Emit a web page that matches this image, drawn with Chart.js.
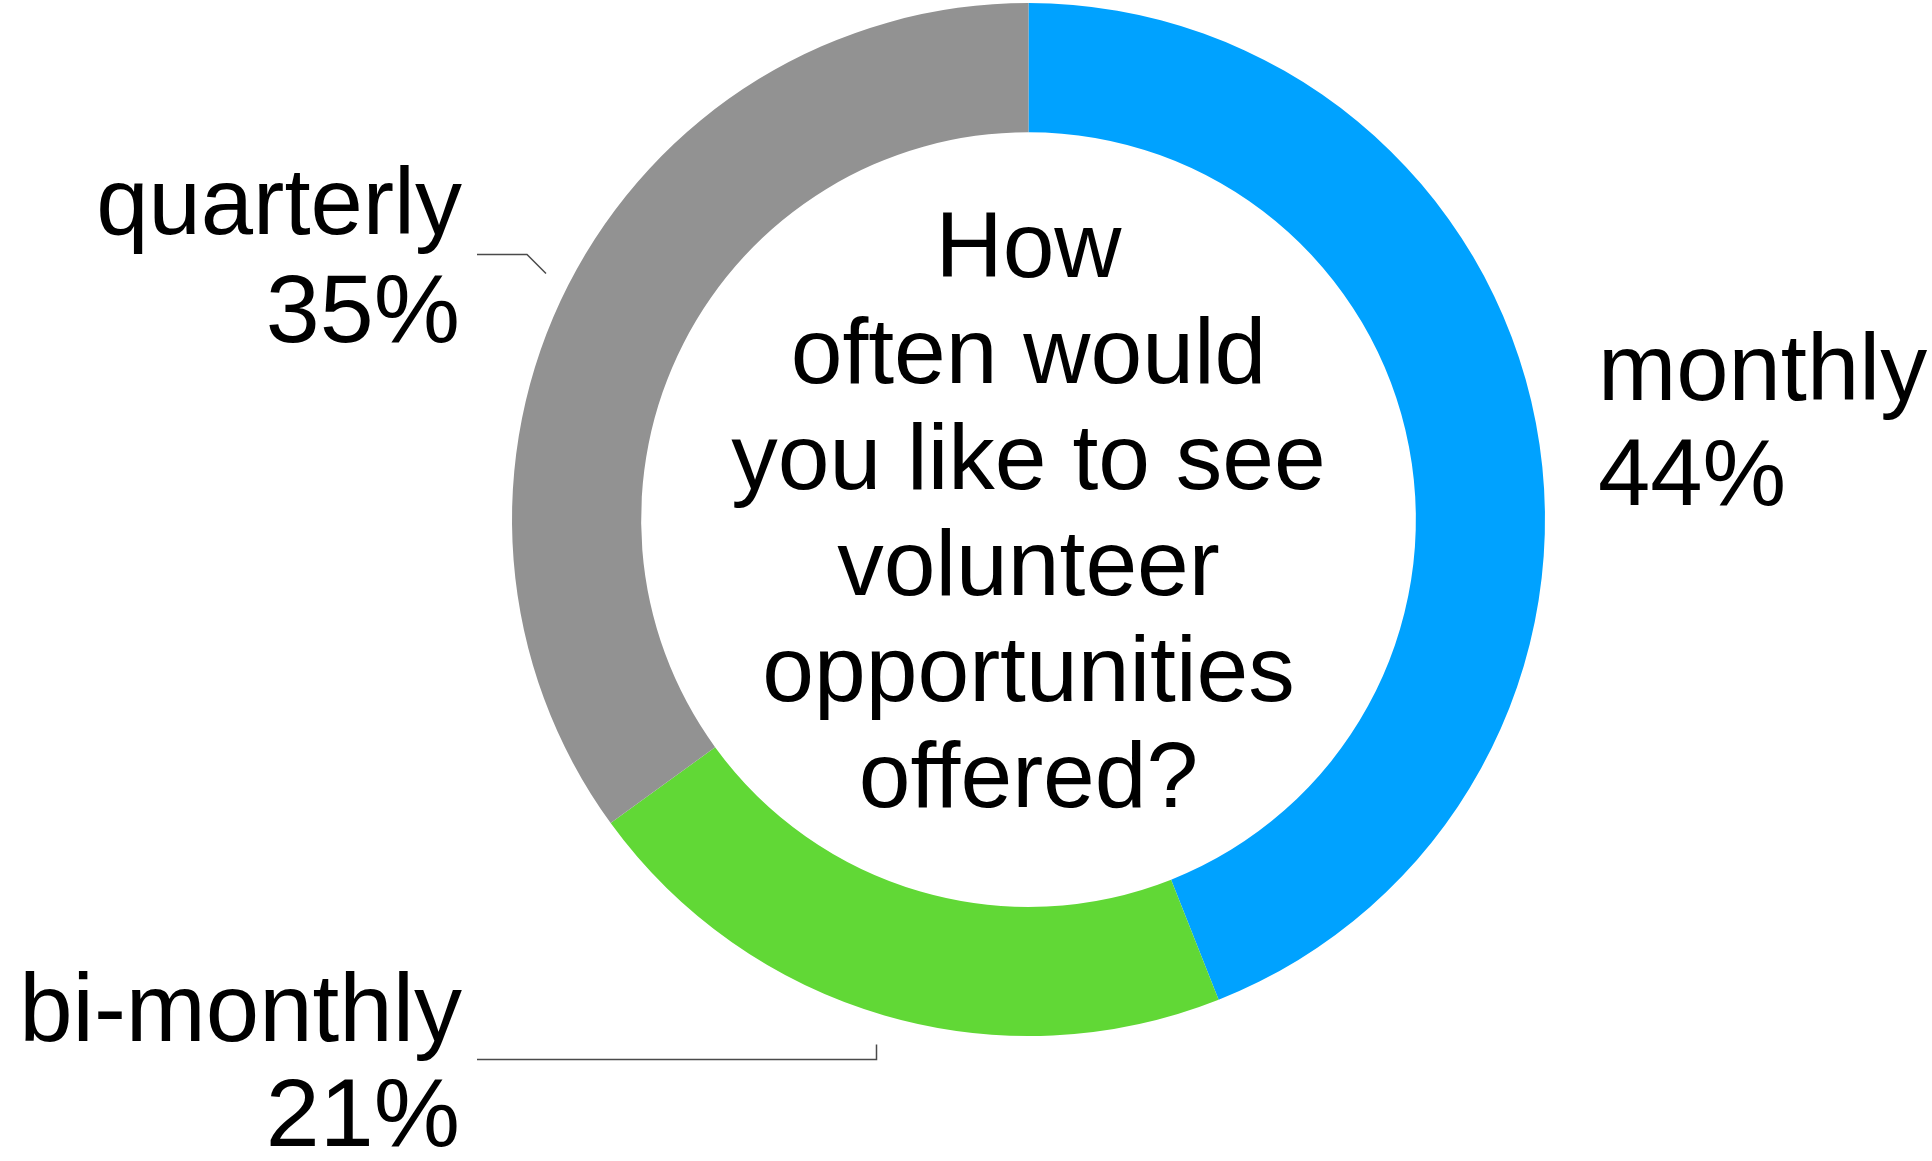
<!DOCTYPE html>
<html>
<head>
<meta charset="utf-8">
<script src="https://cdn.jsdelivr.net/npm/chart.js@4"></script>
<style>
    html, body { margin: 0; padding: 0; background: #fff; }
    #wrap { width: 1932px; height: 1161px; position: relative; }
</style>
</head>
<body>
<div id="wrap"><canvas id="donut"></canvas></div>
<script>
const categories = ['monthly', 'bi-monthly', 'quarterly'];
const shares = [44, 21, 35];
const sliceColors = ['#00A2FF', '#61D836', '#929292'];
const question = ['How', 'often would', 'you like to see', 'volunteer', 'opportunities', 'offered?'];

const FONT = '"Liberation Sans", Arial, Helvetica, sans-serif';

// question text in the hole, plus side labels with their leader lines
const donutText = {
    id: 'donutText',
    afterDraw(chart) {
        const ctx = chart.ctx;
        const arc = chart.getDatasetMeta(0).data[0];
        const cx = arc.x, cy = arc.y, r = arc.outerRadius;

        ctx.save();
        ctx.fillStyle = '#000';
        ctx.font = '93px ' + FONT;
        ctx.textAlign = 'center';
        ctx.textBaseline = 'alphabetic';
        const lh = 106;
        question.forEach((line, i) => {
            ctx.fillText(line, cx, cy + (i - 2.5) * lh + 22);
        });

        ctx.font = '94px ' + FONT;
        const pct = shares.map(v => v + '%');

        // monthly, right side
        ctx.textAlign = 'left';
        ctx.fillText(categories[0], cx + r + 53, cy - 120);
        ctx.fillText(pct[0], cx + r + 53, cy - 15);

        // quarterly, upper left
        ctx.textAlign = 'right';
        ctx.fillText(categories[2], cx - r - 50, cy - 286);
        ctx.font = '97px ' + FONT;
        ctx.fillText(pct[2], cx - r - 52, cy - 178);

        // bi-monthly, lower left
        ctx.font = '96px ' + FONT;
        ctx.fillText(categories[1], cx - r - 50, cy + 521);
        ctx.font = '97px ' + FONT;
        ctx.fillText(pct[1], cx - r - 52, cy + 626);

        // leader lines
        ctx.strokeStyle = '#4a4a4a';
        ctx.lineWidth = 1.5;
        ctx.beginPath();
        ctx.moveTo(cx - r - 35, cy - 265);
        ctx.lineTo(cx - r + 15, cy - 265);
        ctx.lineTo(cx - r + 34, cy - 246);
        ctx.stroke();

        ctx.beginPath();
        ctx.moveTo(cx - r - 35, cy + 540);
        ctx.lineTo(cx - 152, cy + 540);
        ctx.lineTo(cx - 152, cy + 525);
        ctx.stroke();
        ctx.restore();
    }
};

new Chart(document.getElementById('donut'), {
    type: 'doughnut',
    data: {
        labels: categories,
        datasets: [{
            data: shares,
            backgroundColor: sliceColors,
            borderWidth: 0
        }]
    },
    options: {
        responsive: true,
        maintainAspectRatio: false,
        animation: false,
        cutout: '75%',
        layout: { padding: { left: 125, right: 0, top: 3, bottom: 125 } },
        plugins: {
            legend: { display: false },
            tooltip: { enabled: false }
        }
    },
    plugins: [donutText]
});
</script>
</body>
</html>
